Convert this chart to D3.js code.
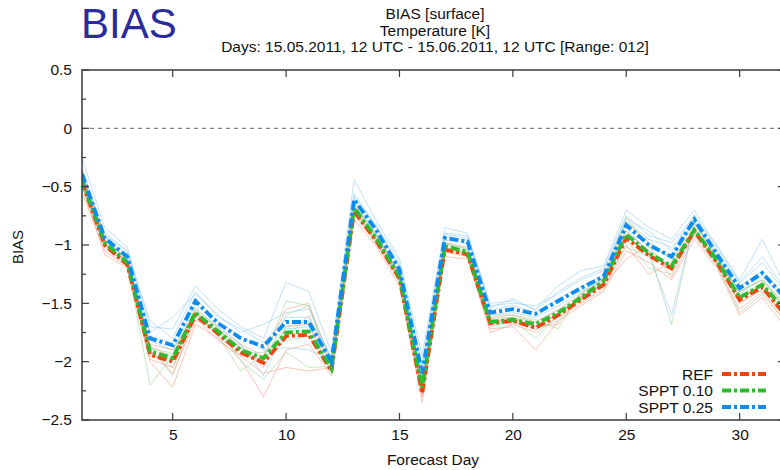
<!DOCTYPE html>
<html>
<head>
<meta charset="utf-8">
<script src="https://cdn.jsdelivr.net/npm/d3@7"></script>
<style>
  html, body { margin: 0; padding: 0; background: #fff; }
  svg { display: block; font-family: "Liberation Sans", Arial, Helvetica, sans-serif; }
</style>
</head>
<body>
<svg id="chart" width="780" height="470"></svg>
<script>
// ---------------- DATA ----------------
const days = d3.range(1, 33); // forecast days 1..32
const xTicks = [5, 10, 15, 20, 25, 30];
const yTicks = [0.5, 0, -0.5, -1, -1.5, -2, -2.5];
const seriesNames = ["REF", "SPPT 0.10", "SPPT 0.25"];

const refMean   = [-0.46,-1.00,-1.17,-1.94,-2.00,-1.60,-1.76,-1.92,-2.01,-1.78,-1.77,-2.08,-0.71,-0.97,-1.29,-2.27,-1.04,-1.08,-1.67,-1.65,-1.71,-1.60,-1.47,-1.34,-0.94,-1.09,-1.20,-0.88,-1.15,-1.47,-1.36,-1.60];
const sppt10Mean= [-0.44,-0.98,-1.15,-1.91,-1.97,-1.58,-1.74,-1.90,-1.97,-1.75,-1.74,-2.06,-0.68,-0.95,-1.27,-2.22,-1.01,-1.06,-1.66,-1.64,-1.68,-1.58,-1.45,-1.31,-0.91,-1.07,-1.18,-0.87,-1.13,-1.45,-1.34,-1.56];
const sppt25Mean= [-0.39,-0.94,-1.10,-1.80,-1.86,-1.48,-1.67,-1.80,-1.87,-1.66,-1.66,-2.00,-0.61,-0.88,-1.21,-2.10,-0.94,-0.97,-1.58,-1.55,-1.59,-1.48,-1.37,-1.27,-0.83,-1.00,-1.10,-0.78,-1.08,-1.37,-1.24,-1.45];

const refMember1 = [-0.50,-1.08,-1.20,-2.00,-2.22,-1.68,-1.80,-1.98,-2.30,-1.90,-1.85,-2.12,-0.78,-1.02,-1.35,-2.35,-1.10,-1.12,-1.72,-1.70,-1.90,-1.65,-1.52,-1.40,-1.05,-1.15,-1.30,-0.95,-1.20,-1.60,-1.45,-1.70];
const refMember2 = [-0.42,-0.95,-1.12,-1.88,-1.95,-1.55,-1.70,-1.85,-1.95,-1.55,-1.50,-2.02,-0.66,-0.92,-1.25,-2.20,-0.98,-1.02,-1.62,-1.60,-1.66,-1.55,-1.42,-1.28,-0.80,-0.98,-1.12,-0.82,-1.10,-1.40,-1.30,-1.52];
const refMember3 = [-0.55,-1.05,-1.18,-1.98,-2.05,-1.62,-1.82,-1.95,-2.10,-2.05,-2.08,-2.05,-0.74,-1.00,-1.30,-2.30,-1.06,-1.10,-1.75,-1.68,-1.75,-1.62,-1.50,-1.38,-1.00,-1.25,-1.15,-0.92,-1.18,-1.55,-1.40,-1.65];
const refMember4 = [-0.45,-0.98,-1.15,-1.90,-2.10,-1.65,-1.72,-1.88,-2.05,-1.70,-1.68,-2.10,-0.70,-0.96,-1.28,-2.25,-1.03,-1.07,-1.68,-1.62,-1.73,-1.58,-1.46,-1.32,-0.88,-1.05,-1.22,-0.86,-1.16,-1.50,-1.38,-1.62];
const refMember5 = [-0.40,-0.92,-1.14,-1.85,-1.90,-1.58,-1.78,-1.95,-1.98,-1.80,-1.60,-2.04,-0.72,-0.98,-1.31,-2.28,-1.05,-1.08,-1.64,-1.66,-1.70,-1.68,-1.44,-1.35,-1.12,-1.00,-1.28,-0.90,-1.14,-1.45,-1.34,-1.58];

const s10Member1 = [-0.48,-1.02,-1.16,-2.20,-1.95,-1.55,-1.78,-2.08,-1.95,-1.70,-1.65,-2.02,-0.65,-0.94,-1.26,-2.24,-0.98,-1.04,-1.70,-1.66,-1.72,-1.65,-1.42,-1.30,-0.88,-1.05,-1.68,-0.80,-1.15,-1.50,-1.38,-1.60];
const s10Member2 = [-0.42,-0.96,-1.13,-1.92,-2.05,-1.62,-1.74,-1.88,-2.02,-1.60,-1.52,-2.08,-0.70,-0.97,-1.28,-2.18,-1.02,-1.08,-1.63,-1.62,-1.66,-1.56,-1.47,-1.34,-0.80,-0.95,-1.14,-0.85,-1.12,-1.42,-1.28,-1.55];
const s10Member3 = [-0.46,-1.00,-1.17,-1.86,-2.12,-1.60,-1.70,-2.00,-2.15,-1.92,-2.05,-2.04,-0.67,-0.93,-1.24,-2.20,-1.00,-1.05,-1.68,-1.65,-1.80,-1.60,-1.48,-1.33,-0.95,-1.20,-1.25,-0.88,-1.17,-1.58,-1.42,-1.66];
const s10Member4 = [-0.44,-0.98,-1.14,-1.95,-1.98,-1.57,-1.76,-1.92,-1.92,-1.82,-1.78,-2.07,-0.69,-0.96,-1.29,-2.26,-1.03,-1.06,-1.65,-1.62,-1.70,-1.59,-1.44,-1.31,-1.02,-1.10,-1.18,-0.86,-1.11,-1.44,-1.32,-1.54];
const s10Member5 = [-0.40,-0.94,-1.12,-1.88,-1.93,-1.53,-1.72,-1.86,-1.99,-1.48,-1.52,-2.00,-0.63,-0.92,-1.26,-2.21,-0.99,-1.03,-1.60,-1.60,-1.64,-1.72,-1.40,-1.28,-0.76,-1.02,-1.10,-0.79,-1.08,-1.40,-1.30,-1.50];

const s25Member1 = [-0.25,-0.85,-1.02,-1.70,-1.72,-1.35,-1.55,-1.70,-1.80,-1.32,-1.40,-1.92,-0.44,-0.80,-1.12,-1.95,-0.85,-0.90,-1.50,-1.48,-1.55,-1.35,-1.22,-1.18,-0.70,-0.85,-0.95,-0.70,-1.02,-1.30,-0.95,-1.35];
const s25Member2 = [-0.34,-0.90,-1.05,-1.75,-1.62,-1.42,-1.60,-1.75,-1.68,-1.58,-1.55,-1.98,-0.56,-0.84,-1.15,-2.02,-0.90,-0.92,-1.52,-1.50,-1.52,-1.42,-1.30,-1.22,-0.78,-0.88,-1.05,-0.74,-1.04,-1.33,-1.15,-1.40];
const s25Member3 = [-0.40,-0.96,-1.12,-1.82,-1.90,-1.50,-1.70,-1.85,-2.12,-1.72,-1.70,-2.02,-0.62,-0.90,-1.24,-2.14,-0.96,-0.99,-1.60,-1.58,-1.62,-1.52,-1.40,-1.30,-0.85,-1.08,-1.60,-0.80,-1.10,-1.40,-1.26,-1.48];
const s25Member4 = [-0.38,-0.93,-1.09,-1.78,-1.84,-1.46,-1.66,-1.78,-1.90,-1.88,-1.90,-1.99,-0.60,-0.86,-1.20,-2.08,-0.93,-0.96,-1.56,-1.52,-1.58,-1.46,-1.36,-1.26,-0.92,-0.95,-1.02,-0.82,-1.06,-1.36,-1.22,-1.44];
const s25Member5 = [-0.36,-0.91,-1.06,-1.65,-1.80,-1.40,-1.62,-1.72,-1.84,-1.62,-1.62,-1.95,-0.58,-0.85,-1.18,-2.05,-0.91,-0.94,-1.54,-1.46,-1.56,-1.40,-1.28,-1.20,-0.75,-0.92,-0.98,-0.76,-1.00,-1.32,-1.10,-1.38];

// ---------------- LAYOUT ----------------
const svg = d3.select("#chart");
const L = 82, R = 785, T = 70, B = 420;
const x = d3.scaleLinear().domain([1, 32]).range([L, R]);
const y = d3.scaleLinear().domain([-2.5, 0.5]).range([B, T]);
const axisColor = "#3a3a3a";
const FS = 15.5;

const colors = { ref: "#f0420c", s10: "#2fbb2f", s25: "#0a8cf0" };
const light  = { ref: "rgba(245,140,115,0.5)", s10: "rgba(140,205,140,0.5)", s25: "rgba(150,205,245,0.6)" };

// titles
svg.append("text").attr("x", 81).attr("y", 38).attr("font-size", 42)
  .attr("fill", "#2b2b9c").text("BIAS");
const titleLines = ["BIAS [surface]", "Temperature [K]", "Days: 15.05.2011, 12 UTC - 15.06.2011, 12 UTC [Range: 012]"];
svg.selectAll("text.title").data(titleLines).join("text").attr("class", "title")
  .attr("x", 435).attr("y", (d, i) => 19 + i * 16.5).attr("text-anchor", "middle")
  .attr("font-size", FS).attr("fill", "#111").text(d => d);

// clip
svg.append("clipPath").attr("id", "clip").append("rect")
  .attr("x", L).attr("y", T).attr("width", R - L).attr("height", B - T);

// zero line
svg.append("line").attr("x1", L).attr("x2", R).attr("y1", y(0)).attr("y2", y(0))
  .attr("stroke", "#666").attr("stroke-width", 1).attr("stroke-dasharray", "4,4");

const line = d3.line().x((d, i) => x(days[i])).y(d => y(d));
const plot = svg.append("g").attr("clip-path", "url(#clip)");

const members = [
  [refMember1, light.ref], [s10Member1, light.s10], [s25Member1, light.s25],
  [refMember2, light.ref], [s10Member2, light.s10], [s25Member2, light.s25],
  [refMember3, light.ref], [s10Member3, light.s10], [s25Member3, light.s25],
  [refMember4, light.ref], [s10Member4, light.s10], [s25Member4, light.s25],
  [refMember5, light.ref], [s10Member5, light.s10], [s25Member5, light.s25]
];
plot.selectAll("path.member").data(members).join("path").attr("class", "member")
  .attr("d", d => line(d[0])).attr("fill", "none").attr("stroke", d => d[1]).attr("stroke-width", 1);

const mains = [[refMean, colors.ref], [sppt10Mean, colors.s10], [sppt25Mean, colors.s25]];
const dash = "9,3,3,3";
plot.selectAll("path.main").data(mains).join("path").attr("class", "main")
  .attr("d", d => line(d[0])).attr("fill", "none").attr("stroke", d => d[1])
  .attr("stroke-width", 3.8).attr("stroke-dasharray", dash);

// frame
svg.append("rect").attr("x", L).attr("y", T).attr("width", R - L).attr("height", B - T)
  .attr("fill", "none").attr("stroke", axisColor).attr("stroke-width", 1.5);

// y ticks (major + minor, left and right, inward)
const yMinor = d3.range(-2.5, 0.51, 0.25);
yMinor.forEach(v => {
  const major = Math.abs(v * 2 - Math.round(v * 2)) < 1e-6;
  const len = major ? 7 : 4;
  svg.append("line").attr("x1", L).attr("x2", L + len).attr("y1", y(v)).attr("y2", y(v))
    .attr("stroke", axisColor).attr("stroke-width", 1.2);
  svg.append("line").attr("x1", R).attr("x2", R - len).attr("y1", y(v)).attr("y2", y(v))
    .attr("stroke", axisColor).attr("stroke-width", 1.2);
});
// x ticks bottom and top
xTicks.forEach(v => {
  svg.append("line").attr("x1", x(v)).attr("x2", x(v)).attr("y1", B).attr("y2", B - 7)
    .attr("stroke", axisColor).attr("stroke-width", 1.2);
  svg.append("line").attr("x1", x(v)).attr("x2", x(v)).attr("y1", T).attr("y2", T + 7)
    .attr("stroke", axisColor).attr("stroke-width", 1.2);
});

// tick labels via d3 axes (domain/ticks hidden)
const yAxis = d3.axisLeft(y).tickValues(yTicks).tickSize(0).tickPadding(10)
  .tickFormat(d => d === 0 ? "0" : d3.format("")(d));
const gy = svg.append("g").attr("transform", `translate(${L},0)`).call(yAxis);
gy.select(".domain").remove();
gy.selectAll("text").attr("font-size", FS).attr("fill", "#111")
  .attr("font-family", "Liberation Sans, Arial, sans-serif");

const xAxis = d3.axisBottom(x).tickValues(xTicks).tickSize(0).tickPadding(9);
const gx = svg.append("g").attr("transform", `translate(0,${B})`).call(xAxis);
gx.select(".domain").remove();
gx.selectAll("text").attr("font-size", FS).attr("fill", "#111")
  .attr("font-family", "Liberation Sans, Arial, sans-serif");

// axis titles
svg.append("text").attr("x", 433).attr("y", 465).attr("text-anchor", "middle")
  .attr("font-size", FS).attr("fill", "#111").text("Forecast Day");
svg.append("text").attr("transform", "translate(23,247) rotate(-90)").attr("text-anchor", "middle")
  .attr("font-size", 15).attr("fill", "#111").text("BIAS");

// legend
const legend = svg.append("g");
seriesNames.forEach((name, i) => {
  const yy = 374 + i * 16.5;
  legend.append("text").attr("x", 713).attr("y", yy + 5.5).attr("text-anchor", "end")
    .attr("font-size", FS).attr("fill", "#111").text(name);
  legend.append("line").attr("x1", 722).attr("x2", 766).attr("y1", yy).attr("y2", yy)
    .attr("stroke", mains[i][1]).attr("stroke-width", 3.8).attr("stroke-dasharray", dash);
});
</script>
</body>
</html>
